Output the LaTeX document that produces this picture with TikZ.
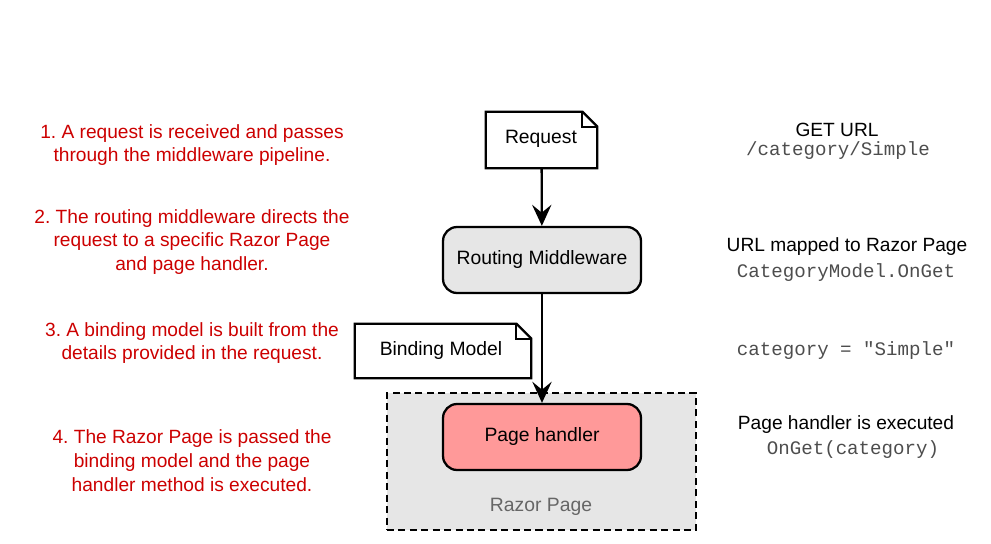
\documentclass[tikz,border=0pt]{standalone}
\usepackage{fontspec}
\usepackage{xcolor}
\usepackage{tikz}
\usetikzlibrary{arrows.meta}
\setmainfont{Liberation Sans}
\setmonofont{Liberation Mono}
\frenchspacing

\definecolor{stepred}{HTML}{CC0000}
\definecolor{boxgray}{HTML}{E6E6E6}
\definecolor{handlerred}{HTML}{FF9999}
\definecolor{codegray}{HTML}{4D4D4D}
\definecolor{labelgray}{HTML}{666666}

\tikzset{
    steptext/.style={text=stepred, align=center, font=\fontsize{10.9}{13.6}\selectfont},
    infotext/.style={font=\fontsize{10.9}{13.6}\selectfont},
    codetext/.style={text=codegray, font=\ttfamily\fontsize{10.9}{13.6}\selectfont},
    procbox/.style={draw, line width=1.3pt, rounded corners=8pt, minimum width=3.96cm, minimum height=1.32cm, font=\fontsize{11}{13.6}\selectfont},
    notebox/.style={minimum width=#1, font=\fontsize{11}{13.6}\selectfont},
    arr/.style={-{Stealth[length=12pt,width=11pt,inset=4.5pt]}, line width=1.3pt}
}

% outline of a note with a folded corner
\newcommand{\notedraw}[1]{
    \draw[line width=1.3pt, fill=white] (#1.south west) -- (#1.north west) -- ([xshift=-0.3cm]#1.north east)
        -- ([yshift=-0.3cm]#1.north east) -- (#1.south east) -- cycle;
    \draw[line width=1.3pt] ([xshift=-0.3cm]#1.north east) -- ([xshift=-0.3cm,yshift=-0.3cm]#1.north east)
        -- ([yshift=-0.3cm]#1.north east);
}

\begin{document}
\begin{tikzpicture}[x=0.02cm, y=-0.02cm]
    \useasboundingbox (0,0) rectangle (991,544);

    % steps on the left
    \node[steptext] (s1) at (192,145) {1. A request is received and passes\\through the middleware pipeline.};
    \node[steptext] (s2) at (192,242) {2. The routing middleware directs the\\request to a specific Razor Page\\and page handler.};
    \node[steptext] (s3) at (192,343) {3. A binding model is built from the\\details provided in the request.};
    \node[steptext] (s4) at (192,461) {4. The Razor Page is passed the\\binding model and the page\\handler method is executed.};

    % razor page container
    \node[draw, dash pattern=on 4pt off 2.5pt, line width=1.3pt, fill=boxgray, minimum width=6.18cm, minimum height=2.74cm] (razor) at (541.5,461.5) {};
    \node[text=labelgray, font=\fontsize{11}{13.6}\selectfont] (razorlabel) at (541,507) {Razor Page};

    % notes
    \node[notebox=2.22cm, minimum height=1.12cm] (req) at (541.5,140) {};
    \notedraw{req}
    \node[font=\fontsize{11}{13.6}\selectfont] (reqlabel) at (541,139) {Request};

    \node[notebox=3.52cm, minimum height=1.08cm] (bind) at (443,351) {};
    \notedraw{bind}
    \node[font=\fontsize{11}{13.6}\selectfont] (bindlabel) at (441,351) {Binding Model};

    % middleware and handler
    \node[procbox, fill=boxgray] (rout) at (542,260) {Routing Middleware};
    \node[procbox, fill=handlerred] (page) at (542,437) {Page handler};

    \draw[arr] (req) -- (rout);
    \draw[arr] (rout) -- (page);

    % details on the right
    \node[infotext] (get) at (837,130) {GET URL};
    \node[codetext] (geturl) at (838,151) {/category/Simple};
    \node[infotext] (map) at (847,247) {URL mapped to Razor Page};
    \node[codetext] (mapcode) at (846,273) {CategoryModel.OnGet};
    \node[codetext] (bindcode) at (846,351) {category = "Simple"};
    \node[infotext] (exec) at (846,425) {Page handler is executed};
    \node[codetext] (execcode) at (853,450) {OnGet(category)};
\end{tikzpicture}
\end{document}
